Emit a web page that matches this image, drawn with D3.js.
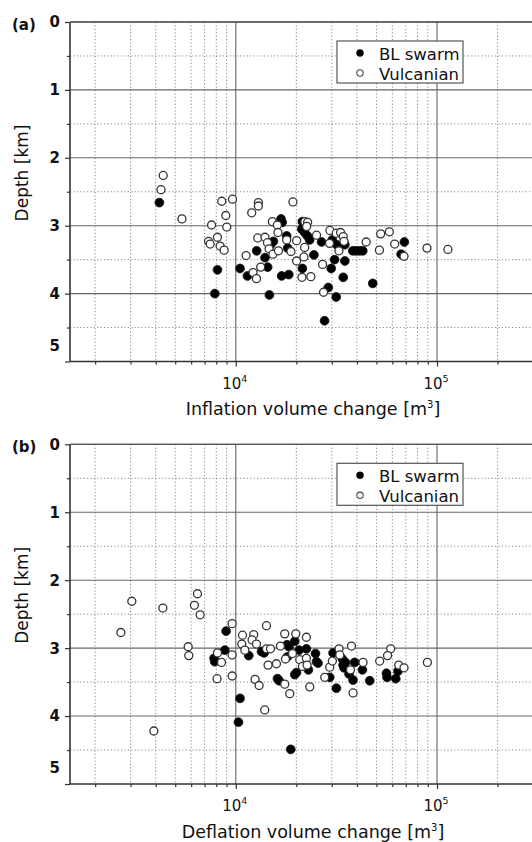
<!DOCTYPE html>
<html>
<head>
<meta charset="utf-8">
<script src="https://cdn.jsdelivr.net/npm/d3@7"></script>
<style>
  html, body { margin: 0; padding: 0; background: #fff; }
  svg { display: block; }
  text { font-family: "DejaVu Sans", sans-serif; fill: #111; }
</style>
</head>
<body>
<script>
// ---------- DATA ----------
const depthTicks = [0, 1, 2, 3, 4, 5];
const depthMinorTicks = [0.5, 1.5, 2.5, 3.5, 4.5];
const volumeMajorTicks = [1e4, 1e5];
const volumeMinorTicks = [2000, 3000, 4000, 5000, 6000, 7000, 8000, 9000,
  20000, 30000, 40000, 50000, 60000, 70000, 80000, 90000, 200000];
const seriesNames = ["BL swarm", "Vulcanian"];

// Panel (a): inflation volume change [m3], depth [km]
const inflBLVolume = [4170, 8110, 7870, 10500, 12700, 13970, 14400, 11430, 14690, 16780,
  17000, 17900, 15380, 14900, 16900, 18340, 18100, 21420, 24450, 21420,
  21260, 21990, 22680, 23270, 26690, 29800, 28820, 27620, 31560, 30970,
  30170, 31700, 34820, 34820, 34200, 38150, 39640, 41200, 42770, 47950,
  68850, 66340];
const inflBLDepth = [2.66, 3.65, 4.00, 3.63, 3.37, 3.47, 3.61, 3.74, 4.02, 2.90,
  2.95, 3.15, 3.23, 3.28, 3.74, 3.72, 3.33, 3.63, 3.43, 2.94,
  3.05, 3.10, 3.15, 3.21, 3.24, 3.63, 3.91, 4.40, 4.05, 3.50,
  3.21, 3.28, 3.28, 3.52, 3.76, 3.37, 3.37, 3.37, 3.37, 3.85,
  3.24, 3.42];
const inflVulVolume = [4360, 4250, 5400, 8520, 9630, 8920, 9020, 7580, 8110, 7320,
  7460, 8360, 8750, 11250, 12190, 12670, 12000, 12950, 12950, 12860,
  13970, 14370, 15200, 16100, 16200, 17900, 14640, 15300, 16290, 13300,
  18800, 20060, 19230, 20060, 21320, 23620, 21810, 21990, 22050, 22750,
  22500, 25200, 29370, 29230, 27000, 27300, 31560, 33180, 34200, 34500,
  32560, 44470, 51760, 52500, 57960, 61630, 68560, 89170, 113300];
const inflVulDepth = [2.26, 2.47, 2.90, 2.64, 2.61, 2.85, 3.02, 2.99, 3.17, 3.23,
  3.27, 3.30, 3.36, 3.44, 3.69, 3.78, 2.81, 2.66, 2.71, 3.18,
  3.17, 3.25, 2.94, 2.99, 3.10, 3.21, 3.34, 3.42, 3.37, 3.61,
  3.38, 3.22, 2.65, 3.52, 3.76, 3.75, 3.46, 3.32, 2.94, 2.95,
  3.01, 3.14, 3.07, 3.26, 3.57, 3.98, 3.11, 3.10, 3.16, 3.23,
  3.37, 3.24, 3.36, 3.12, 3.09, 3.27, 3.45, 3.33, 3.35];

// Panel (b): deflation volume change [m3], depth [km]
const deflBLVolume = [8950, 8820, 7800, 7860, 10500, 10310, 11600, 13420, 13830, 16110,
  16420, 18760, 17980, 18390, 18040, 19640, 20640, 19640, 20030, 22440,
  22960, 24890, 25180, 25630, 29300, 31620, 30450, 33880, 34130, 34520,
  35080, 36540, 38270, 39000, 42600, 46320, 56080, 56460, 62370, 63970];
const deflBLDepth = [2.75, 3.03, 3.15, 3.20, 3.74, 4.09, 3.11, 3.05, 3.07, 3.45,
  3.48, 4.49, 2.95, 2.98, 3.13, 2.90, 3.03, 3.39, 3.36, 3.01,
  3.32, 3.08, 3.20, 3.22, 3.43, 3.59, 3.07, 3.16, 3.25, 3.29,
  3.21, 3.38, 3.47, 3.21, 3.32, 3.48, 3.37, 3.43, 3.45, 3.34];
const deflVulVolume = [3043, 4340, 6450, 6230, 6650, 2685, 5800, 5840, 3915, 9590,
  8110, 8490, 9590, 8070, 9590, 10800, 10710, 11090, 12280, 12050,
  12670, 12470, 13060, 13930, 14210, 14470, 14210, 14870, 15920, 17510,
  18540, 17510, 16670, 17650, 19870, 19130, 20790, 21450, 22440, 22440,
  22610, 23320, 27670, 29300, 30200, 32610, 32870, 37580, 37150, 38270,
  42890, 51900, 58880, 56770, 64510, 68570, 89600];
const deflVulDepth = [2.31, 2.41, 2.20, 2.37, 2.51, 2.77, 2.98, 3.11, 4.22, 2.64,
  3.07, 3.21, 3.10, 3.45, 3.41, 2.81, 2.94, 3.03, 2.80, 2.88,
  2.94, 3.46, 3.55, 3.91, 2.67, 3.25, 3.01, 3.01, 3.23, 3.53,
  3.67, 2.79, 2.97, 3.16, 2.79, 3.08, 3.17, 3.27, 2.84, 3.15,
  3.25, 3.57, 3.43, 3.28, 3.19, 3.01, 3.10, 2.97, 3.32, 3.66,
  3.21, 3.19, 3.01, 3.11, 3.25, 3.29, 3.21];

// ---------- DRAWING ----------
const W = 532, H = 842;
const svg = d3.select("body").append("svg").attr("width", W).attr("height", H);
svg.append("rect").attr("width", W).attr("height", H).attr("fill", "#fff");

const LEFT = 70, RIGHT = 533;
const x = d3.scaleLog().domain([1500, 300000]).range([LEFT, RIGHT]);

function drawPanel(top, bottom, label, xTitle, blV, blD, vuV, vuD) {
  const y = d3.scaleLinear().domain([0, 5]).range([top, bottom]);
  const g = svg.append("g");

  // dotted grid
  const grid = g.append("g");
  grid.selectAll("line.vminor").data(volumeMinorTicks).join("line")
    .attr("x1", d => x(d)).attr("x2", d => x(d)).attr("y1", top).attr("y2", bottom)
    .attr("stroke", "#888").attr("stroke-width", 1).attr("stroke-dasharray", "1.2,2.2");
  grid.selectAll("line.hminor").data(depthMinorTicks).join("line")
    .attr("x1", LEFT).attr("x2", RIGHT).attr("y1", d => y(d)).attr("y2", d => y(d))
    .attr("stroke", "#888").attr("stroke-width", 1).attr("stroke-dasharray", "1.2,2.2");
  // solid grid
  grid.selectAll("line.vmajor").data(volumeMajorTicks).join("line")
    .attr("x1", d => x(d)).attr("x2", d => x(d)).attr("y1", top).attr("y2", bottom)
    .attr("stroke", "#666").attr("stroke-width", 1.1);
  grid.selectAll("line.hmajor").data(depthTicks.slice(0, 5)).join("line")
    .attr("x1", LEFT).attr("x2", RIGHT).attr("y1", d => y(d)).attr("y2", d => y(d))
    .attr("stroke", "#666").attr("stroke-width", 1.1);

  // axes (ticks)
  const yMinorAxis = d3.axisLeft(y).tickValues(depthMinorTicks).tickSize(3).tickFormat("");
  const yMajorAxis = d3.axisLeft(y).tickValues(depthTicks).tickSize(5).tickFormat("");
  const xMinorAxis = d3.axisBottom(x).tickValues(volumeMinorTicks).tickSize(3).tickFormat("");
  const xMajorAxis = d3.axisBottom(x).tickValues(volumeMajorTicks).tickSize(5).tickFormat("");
  [yMinorAxis, yMajorAxis].forEach(ax => {
    const a = g.append("g").attr("transform", `translate(${LEFT},0)`).call(ax);
    a.select(".domain").remove();
    a.selectAll("line").attr("stroke", "#333").attr("stroke-width", 1.2);
  });
  [xMinorAxis, xMajorAxis].forEach(ax => {
    const a = g.append("g").attr("transform", `translate(0,${bottom})`).call(ax);
    a.select(".domain").remove();
    a.selectAll("line").attr("stroke", "#333").attr("stroke-width", 1.2);
  });
  // axis lines
  g.append("line").attr("x1", LEFT).attr("x2", LEFT).attr("y1", top).attr("y2", bottom)
    .attr("stroke", "#333").attr("stroke-width", 1.6);
  g.append("line").attr("x1", LEFT).attr("x2", RIGHT).attr("y1", bottom).attr("y2", bottom)
    .attr("stroke", "#333").attr("stroke-width", 1.6);
  g.append("line").attr("x1", LEFT).attr("x2", RIGHT).attr("y1", top).attr("y2", top)
    .attr("stroke", "#555").attr("stroke-width", 1.3);

  // y tick labels
  g.selectAll("text.ylab").data(depthTicks).join("text")
    .attr("x", 60).attr("y", d => y(d) - (d === 5 ? 16 : 0)).attr("dy", "0.36em")
    .attr("text-anchor", "end").attr("font-size", 15).attr("font-weight", "bold")
    .text(d => d);

  // x tick labels 10^n
  const xl = g.selectAll("text.xlab").data(volumeMajorTicks).join("text")
    .attr("x", d => x(d) - 1).attr("y", bottom + 27)
    .attr("text-anchor", "middle").attr("font-size", 15);
  xl.append("tspan").text("10");
  xl.append("tspan").attr("dy", -7).attr("font-size", 9.5).text(d => Math.round(Math.log10(d)));

  // axis titles
  const xt = g.append("text").attr("x", 313).attr("y", bottom + 53.5)
    .attr("text-anchor", "middle").attr("font-size", 17.5);
  xt.append("tspan").text(xTitle + " [m");
  xt.append("tspan").attr("dy", -7).attr("font-size", 10).text("3");
  xt.append("tspan").attr("dy", 7).text("]");

  g.append("text").attr("transform", `translate(28,${top + 151}) rotate(-90)`)
    .attr("text-anchor", "middle").attr("font-size", 17).text("Depth [km]");

  g.append("text").attr("x", 12).attr("y", top + 8).attr("font-size", 15)
    .attr("font-weight", "bold").text(label);

  // points
  const bl = blV.map((v, i) => ({ v, d: blD[i] }));
  const vu = vuV.map((v, i) => ({ v, d: vuD[i] }));
  g.append("g").selectAll("circle").data(bl).join("circle")
    .attr("cx", p => x(p.v)).attr("cy", p => y(p.d)).attr("r", 4.4)
    .attr("fill", "#000").attr("stroke", "#111").attr("stroke-width", 0.8);
  g.append("g").selectAll("circle").data(vu).join("circle")
    .attr("cx", p => x(p.v)).attr("cy", p => y(p.d)).attr("r", 4.0)
    .attr("fill", "#fff").attr("stroke", "#333").attr("stroke-width", 1.3);

  // legend
  const lg = g.append("g");
  lg.append("rect").attr("x", 337).attr("y", top + 19).attr("width", 126).attr("height", 42)
    .attr("fill", "#fff").attr("stroke", "#555").attr("stroke-width", 1.2);
  seriesNames.forEach((name, i) => {
    const cy = top + 31 + i * 20;
    lg.append("circle").attr("cx", 360).attr("cy", cy).attr("r", i === 0 ? 3.5 : 3.2)
      .attr("fill", i === 0 ? "#000" : "#fff").attr("stroke", i === 0 ? "#000" : "#444")
      .attr("stroke-width", i === 0 ? 0.5 : 1.1);
    lg.append("text").attr("x", 379).attr("y", cy + 6.5).attr("font-size", 16.5).text(name);
  });
}

drawPanel(22, 361.5, "(a)", "Inflation volume change", inflBLVolume, inflBLDepth, inflVulVolume, inflVulDepth);
drawPanel(444.3, 784, "(b)", "Deflation volume change", deflBLVolume, deflBLDepth, deflVulVolume, deflVulDepth);
</script>
</body>
</html>
